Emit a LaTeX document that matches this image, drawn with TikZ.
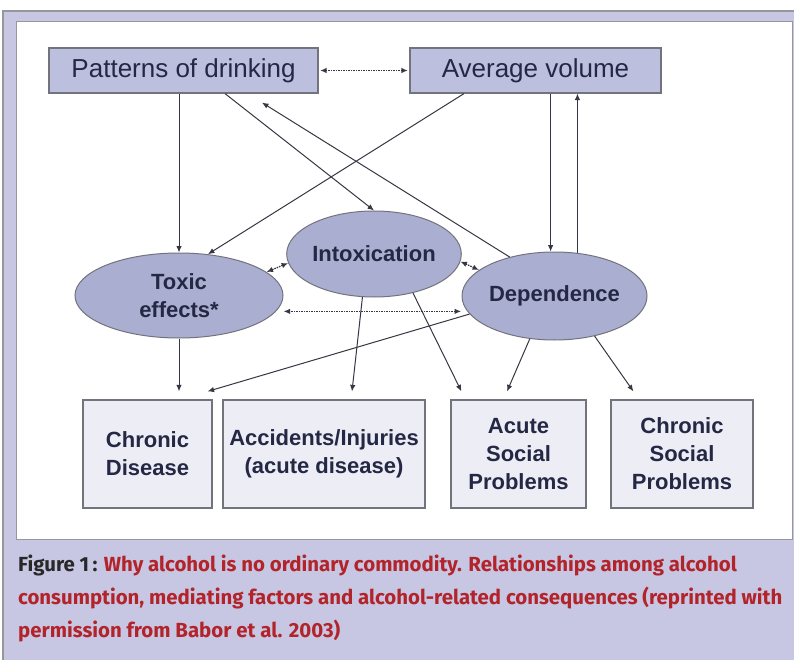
\documentclass[tikz,border=0pt]{standalone}
\usepackage{fontspec}
\setmainfont{Liberation Sans}
\newfontfamily\capfont{Fira Sans}
\usetikzlibrary{arrows.meta,calc,shapes.geometric}

\definecolor{lavbg}{RGB}{199,199,228}
\definecolor{framegray}{RGB}{150,150,155}
\definecolor{boxgray}{RGB}{115,115,125}
\definecolor{topfill}{RGB}{188,192,222}
\definecolor{ovalfill}{RGB}{170,174,208}
\definecolor{lowfill}{RGB}{236,237,245}
\definecolor{inkblue}{RGB}{36,40,68}
\definecolor{linegray}{RGB}{55,55,68}
\definecolor{capred}{RGB}{178,36,42}
\definecolor{capdark}{RGB}{40,40,40}

\tikzset{
  topbox/.style={draw=boxgray, line width=1.2pt, fill=topfill, inner sep=0pt, minimum height=45pt, text=inkblue, font=\fontsize{26}{30}\selectfont},
  oval/.style={ellipse, draw=boxgray, line width=1pt, fill=ovalfill, inner sep=0pt, text=inkblue, align=center, font=\fontsize{22}{28}\selectfont\bfseries},
  lowbox/.style={draw=boxgray, line width=1.2pt, fill=lowfill, inner sep=0pt, minimum height=108pt, text=inkblue, align=center, font=\fontsize{22}{28}\selectfont\bfseries},
  arr/.style={-{Latex[length=6.5pt,width=5.5pt]}, draw=linegray, line width=1pt},
  dotarr/.style={{Latex[length=6.5pt,width=5.5pt]}-{Latex[length=6.5pt,width=5.5pt]}, draw=linegray, line width=1.3pt, dash pattern=on 1.5pt off 1pt},
  captext/.style={anchor=base west, inner sep=0pt, font=\capfont\bfseries\fontsize{20.4}{24}\selectfont}
}

\begin{document}
\begin{tikzpicture}[x=1pt, y=-1pt]
		%%%%% FRAME %%%%%
		\useasboundingbox (0,0) rectangle (794,660);
		\fill[white] (0,0) rectangle (794,660);
		\fill[lavbg] (3,11) rectangle (794,660);
		\draw[framegray, line width=2pt] (3,660) -- (3,11) -- (794,11);
		\draw[fill=white, draw=framegray, line width=1pt] (16,22) rectangle (792,539);
		
		%%%%% NODES %%%%%
		\node[topbox, minimum width=269pt] (pat) at (183.5,70.5) {Patterns of drinking};
		\node[topbox, minimum width=251pt] (avg) at (535.5,70.5) {Average volume};
		
		\node[oval, minimum width=208pt, minimum height=85pt] (tox) at (179,295.5) {Toxic\\effects*};
		\node[oval, minimum width=170pt, minimum height=86pt] (intox) at (374,254) {Intoxication};
		\node[oval, minimum width=183pt, minimum height=88pt] (dep) at (554.5,296) {Dependence};
		
		\node[lowbox, minimum width=129pt] (cd) at (147.5,454) {Chronic\\Disease};
		\node[lowbox, minimum width=202pt] (acc) at (324,454) {Accidents/Injuries\\(acute disease)};
		\node[lowbox, minimum width=135pt] (as) at (518.5,454) {Acute\\Social\\Problems};
		\node[lowbox, minimum width=142pt] (cs) at (682,454) {Chronic\\Social\\Problems};
		
		%%%%% ARROWS %%%%%
		\draw[dotarr, shorten <=1.5pt, shorten >=1.5pt] (pat.east) -- (avg.west);
		
		\draw[arr] (pat.south -| tox.north) -- (tox.north);
		\draw[arr] ([xshift=41.5pt]pat.south) -- (intox.north);
		\draw[arr] ([xshift=-71.5pt]avg.south) -- (tox.55);
		\draw[arr] (dep.139) -- ([xshift=78.5pt,yshift=-9pt]pat.south);
		\draw[arr] (dep.95 |- avg.south) -- (dep.95);
		\draw[arr] (dep.62) -- (dep.62 |- avg.south);
		
		\draw[dotarr] (intox.186) -- (tox.15);
		\draw[dotarr] (intox.-5) -- (dep.161);
		\draw[dotarr, shorten <=6pt] (dep.190) -- (tox.east |- dep.190);
		
		\draw[arr] (dep.192) -- ([xshift=-5pt,yshift=8pt]cd.north east);
		\draw[arr, shorten >=8pt] (tox.south) -- (tox.south |- cd.north);
		\draw[arr] (intox.255) -- ([xshift=28pt,yshift=8pt]acc.north);
		\draw[arr] (intox.-45) -- ([xshift=11pt,yshift=8pt]as.north west);
		\draw[arr] (dep.240) -- ([xshift=-11.5pt,yshift=8pt]as.north);
		\draw[arr] (dep.-45) -- ([xshift=23pt,yshift=8pt]cs.north west);
		
		%%%%% CAPTION %%%%%
		\node[captext] (cap1) at (18,571) {\textcolor{capdark}{Figure 1\,:} \textcolor{capred}{Why alcohol is no ordinary commodity. Relationships among alcohol}};
		\node[captext, text=capred] (cap2) at (18,604) {consumption, mediating factors and alcohol-related consequences (reprinted with};
		\node[captext, text=capred] (cap3) at (18,637) {permission from Babor et al. 2003)};
\end{tikzpicture}
\end{document}
